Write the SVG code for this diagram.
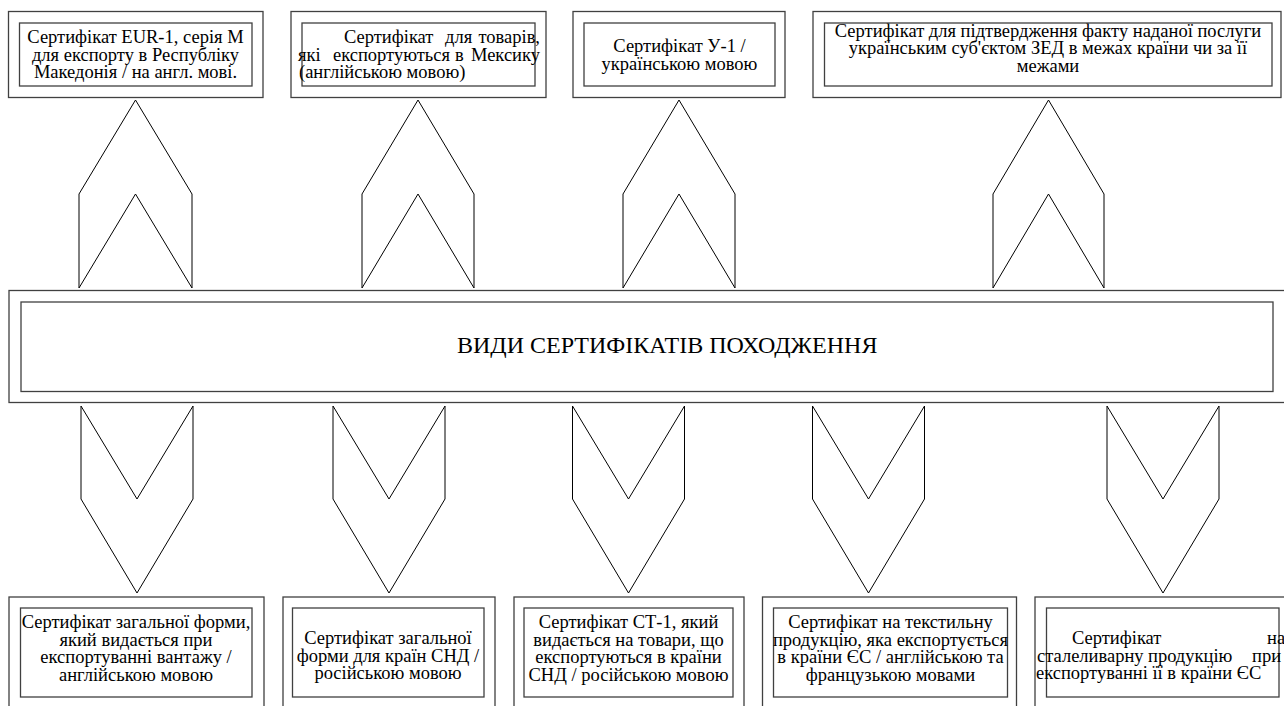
<svg xmlns="http://www.w3.org/2000/svg" width="1284" height="706" viewBox="0 0 1284 706">
<style>
.bx{fill:none;stroke:#404040;stroke-width:1.3}
.ar{fill:#fff;stroke:#000;stroke-width:1}
.t{font-family:'Liberation Serif','Times New Roman',serif;font-size:18.5px;fill:#000}
.c{text-anchor:middle}
.e{text-anchor:end}
</style>
<rect width="1284" height="706" fill="#fff"/>
<g id="connectors">
<polygon class="ar" points="79,288 79,194 135.5,100 192,194 192,288 135.5,194"/>
<polygon class="ar" points="362,288 362,194 418,100 474,194 474,288 418,194"/>
<polygon class="ar" points="623,288 623,194 679,100 735,194 735,288 679,194"/>
<polygon class="ar" points="993,288 993,194 1048.5,100 1104,194 1104,288 1048.5,194"/>
<polygon class="ar" points="81,406 137,499 193,406 193,499 137,593 81,499"/>
<polygon class="ar" points="333,406 389,499 445,406 445,499 389,593 333,499"/>
<polygon class="ar" points="572.5,406 628.5,499 684.5,406 684.5,499 628.5,593 572.5,499"/>
<polygon class="ar" points="812.5,406 868.5,499 924.5,406 924.5,499 868.5,593 812.5,499"/>
<polygon class="ar" points="1107,406 1163,499 1219,406 1219,499 1163,593 1107,499"/>
</g>
<g id="center" class="t">
<rect class="bx" x="9" y="290.5" width="1290" height="112"/>
<rect class="bx" x="21" y="302" width="1252" height="89.5"/>
<text x="457" y="353" font-size="24">ВИДИ СЕРТИФІКАТІВ ПОХОДЖЕННЯ</text>
</g>
<g id="top1" class="t">
<rect class="bx" x="8.5" y="11.5" width="254.5" height="86"/>
<rect class="bx" x="19.5" y="23" width="232.5" height="63"/>
<text class="c" x="135.5" y="43">Сертифікат EUR-1, серія М</text>
<text class="c" x="135.5" y="60.5">для експорту в Республіку</text>
<text class="c" x="135.5" y="78">Македонія / на англ. мові.</text>
</g>
<g id="top2" class="t">
<rect class="bx" x="291" y="11.5" width="255" height="86"/>
<rect class="bx" x="302" y="23" width="233" height="63"/>
<text y="43"><tspan x="344">Сертифікат</tspan><tspan x="445">для</tspan><tspan class="e" x="540">товарів,</tspan></text>
<text y="60.5"><tspan x="298">які</tspan><tspan x="333">експортуються</tspan><tspan x="455">в</tspan><tspan class="e" x="540">Мексику</tspan></text>
<text x="299" y="78">(англійською мовою)</text>
</g>
<g id="top3" class="t">
<rect class="bx" x="573" y="11.5" width="212" height="86"/>
<rect class="bx" x="584" y="23" width="191" height="63"/>
<text class="c" x="679.5" y="52">Сертифікат У-1 /</text>
<text class="c" x="679.5" y="69.5">українською мовою</text>
</g>
<g id="top4" class="t">
<rect class="bx" x="813" y="11.5" width="468" height="86"/>
<rect class="bx" x="824.5" y="23" width="447.5" height="63"/>
<text class="c" x="1048" y="36.5">Сертифікат для підтвердження факту наданої послуги</text>
<text class="c" x="1048" y="54">українським суб'єктом ЗЕД в межах країни чи за її</text>
<text class="c" x="1048" y="71.5">межами</text>
</g>
<g id="bottom1" class="t">
<rect class="bx" x="9" y="597" width="255" height="120"/>
<rect class="bx" x="20.5" y="608" width="231.5" height="89"/>
<text class="c" x="136" y="628">Сертифікат загальної форми,</text>
<text class="c" x="136" y="645.5">який видається при</text>
<text class="c" x="136" y="663">експортуванні вантажу /</text>
<text class="c" x="136" y="680.5">англійською мовою</text>
</g>
<g id="bottom2" class="t">
<rect class="bx" x="283" y="597" width="212" height="120"/>
<rect class="bx" x="292.5" y="608" width="191.5" height="89"/>
<text class="c" x="388" y="644">Сертифікат загальної</text>
<text class="c" x="388" y="661.5">форми для країн СНД /</text>
<text class="c" x="388" y="679">російською мовою</text>
</g>
<g id="bottom3" class="t">
<rect class="bx" x="514" y="597" width="230" height="120"/>
<rect class="bx" x="524" y="608" width="209" height="89"/>
<text class="c" x="628.5" y="628">Сертифікат СТ-1, який</text>
<text class="c" x="628.5" y="645.5">видається на товари, що</text>
<text class="c" x="628.5" y="663">експортуються в країни</text>
<text class="c" x="628.5" y="680.5">СНД / російською мовою</text>
</g>
<g id="bottom4" class="t">
<rect class="bx" x="762.5" y="597" width="254" height="120"/>
<rect class="bx" x="773.5" y="608" width="234" height="89"/>
<text class="c" x="890.5" y="628">Сертифікат на текстильну</text>
<text class="c" x="890.5" y="645.5">продукцію, яка експортується</text>
<text class="c" x="890.5" y="663">в країни ЄС / англійською та</text>
<text class="c" x="890.5" y="680.5">французькою мовами</text>
</g>
<g id="bottom5" class="t">
<rect class="bx" x="1035" y="597" width="270" height="120"/>
<rect class="bx" x="1046.5" y="608" width="232.5" height="89"/>
<text y="644"><tspan x="1072">Сертифікат</tspan><tspan x="1267">на</tspan></text>
<text y="661.5"><tspan x="1037">сталеливарну</tspan><tspan x="1148">продукцію</tspan><tspan x="1252">при</tspan></text>
<text x="1036" y="679">експортуванні її в країни ЄС</text>
</g>
</svg>
